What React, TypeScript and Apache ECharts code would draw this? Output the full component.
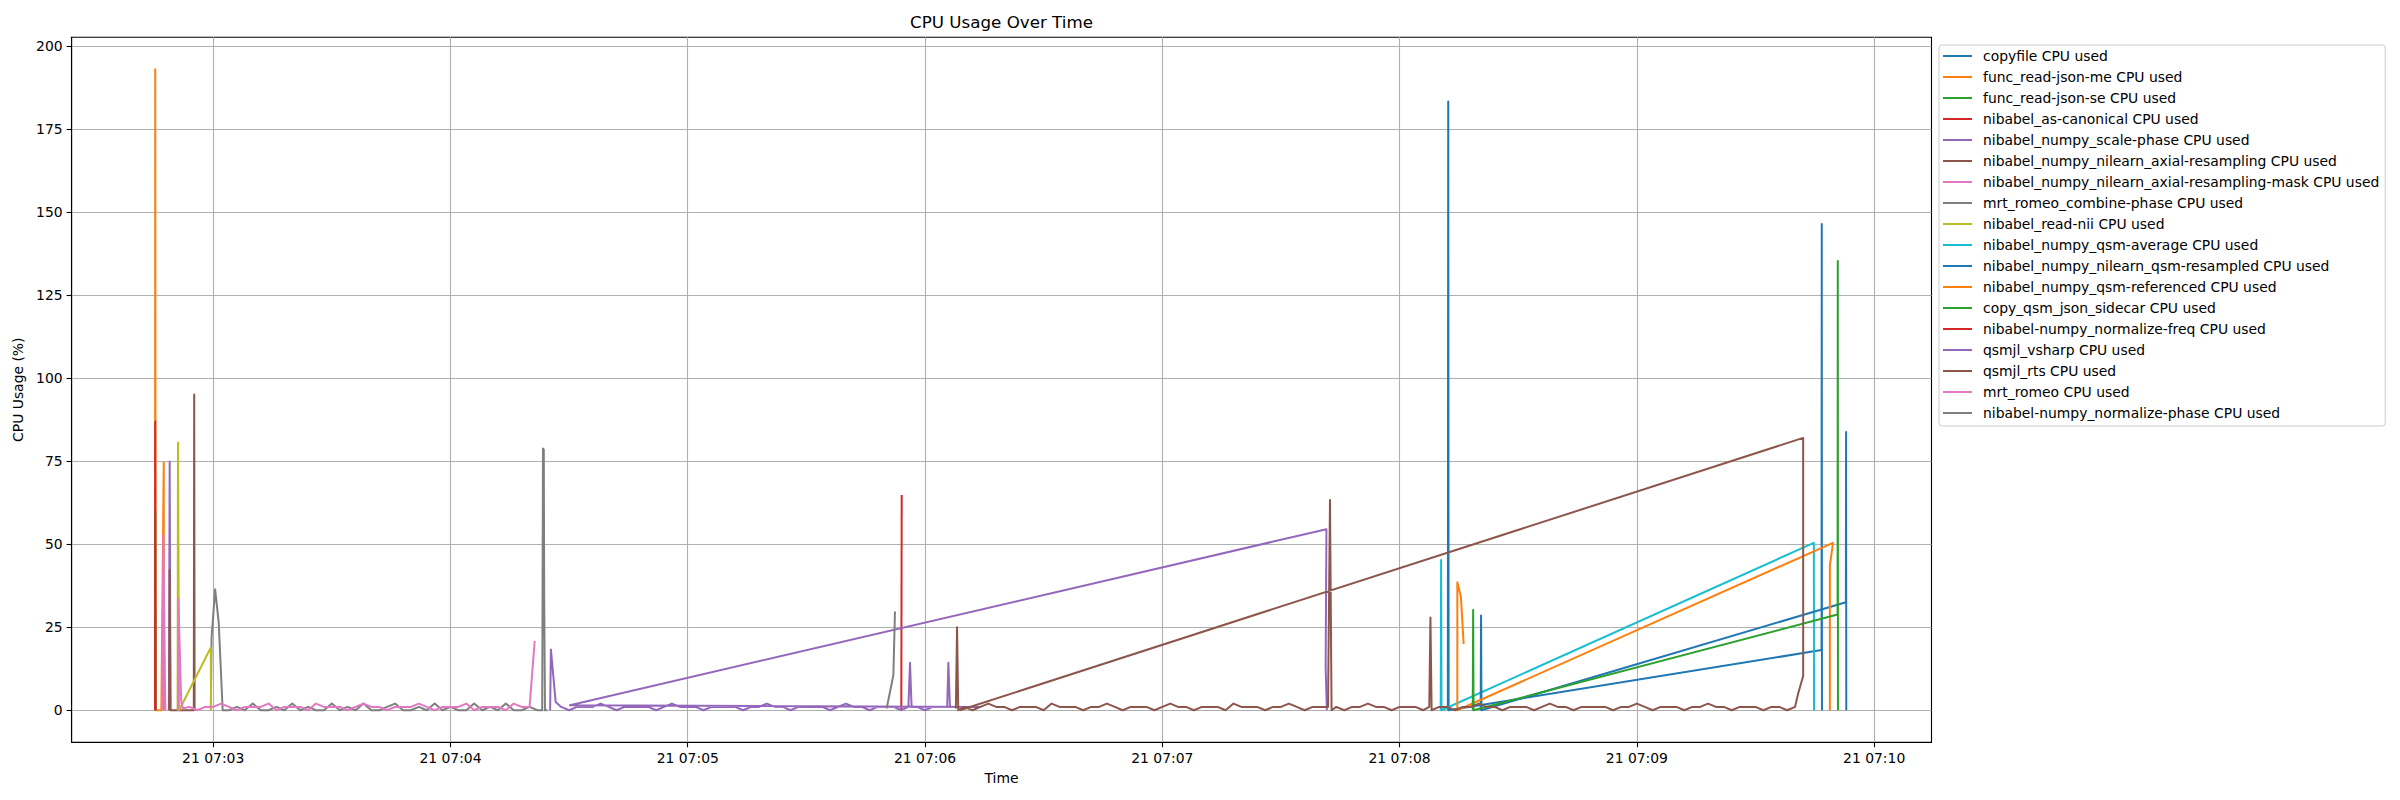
import React, { useEffect, useRef } from 'react';
import * as echarts from 'echarts';

// time is expressed in seconds after 07:00:00 (day 21)
const seriesNames = [
  'copyfile CPU used',
  'func_read-json-me CPU used',
  'func_read-json-se CPU used',
  'nibabel_as-canonical CPU used',
  'nibabel_numpy_scale-phase CPU used',
  'nibabel_numpy_nilearn_axial-resampling CPU used',
  'nibabel_numpy_nilearn_axial-resampling-mask CPU used',
  'mrt_romeo_combine-phase CPU used',
  'nibabel_read-nii CPU used',
  'nibabel_numpy_qsm-average CPU used',
  'nibabel_numpy_nilearn_qsm-resampled CPU used',
  'nibabel_numpy_qsm-referenced CPU used',
  'copy_qsm_json_sidecar CPU used',
  'nibabel-numpy_normalize-freq CPU used',
  'qsmjl_vsharp CPU used',
  'qsmjl_rts CPU used',
  'mrt_romeo CPU used',
  'nibabel-numpy_normalize-phase CPU used',
];

const seriesColors = [
  '#1f77b4', '#ff7f0e', '#2ca02c', '#d62728', '#9467bd', '#8c564b', '#e377c2', '#7f7f7f', '#bcbd22',
  '#17becf', '#1f77b4', '#ff7f0e', '#2ca02c', '#d62728', '#9467bd', '#8c564b', '#e377c2', '#7f7f7f',
];

const xTickValues = [180, 240, 300, 360, 420, 480, 540, 600];
const xTickLabels = ['21 07:03', '21 07:04', '21 07:05', '21 07:06', '21 07:07', '21 07:08', '21 07:09', '21 07:10'];
const yTickValues = [0, 25, 50, 75, 100, 125, 150, 175, 200];

// explicit samples [time, cpu]
const copyfile = [[492.2, 0], [492.3, 183.3], [492.4, 0], [586.7, 18.1], [586.75, 146.4], [586.8, 0]];
const funcReadJsonMe = [[165.3, 0], [165.35, 193.0], [165.45, 0], [166.9, 0], [167.5, 74.6], [167.55, 0]];
const funcReadJsonSe = [[165.3, 0], [165.35, 60], [165.45, 0]];
const asCanonical = [[165.3, 0], [165.35, 86.9], [165.45, 0]];
const scalePhase = [[168.8, 0], [169.0, 74.9], [169.2, 0]];
const axialResampling = [[168.9, 0], [169.0, 42.3], [169.2, 0], [175.1, 0], [175.2, 95.1], [175.3, 0]];
const axialResamplingMask = [[167.1, 0], [167.4, 52.8], [167.9, 0]];
const combinePhaseHead = [[179.4, 0], [179.6, 22.0], [180.5, 36.4], [181.4, 26.4], [182.4, 0]];
const combinePhaseNoise = [0, 1, 0, 2, 0, 0, 1, 0, 2, 0, 1, 0, 0, 2, 0, 1, 0, 2, 0, 0, 1, 2, 0, 0, 1, 0, 2, 0, 1, 0, 0, 2, 0, 1, 0, 2, 0, 0, 1, 0];
const combinePhaseTail = [[263.2, 0], [263.4, 78.8], [263.6, 78.5], [263.7, 34.6], [263.9, 0], [264.5, 0]];
const readNii = [[171.0, 0], [171.1, 80.6], [171.4, 0], [179.4, 18.9], [179.45, 0]];
const qsmAverage = [[490.4, 0], [490.5, 45.2], [490.6, 0], [584.75, 50.4], [584.8, 0]];
const qsmResampled = [[500.5, 0], [500.6, 28.5], [500.7, 0], [592.85, 32.5], [592.9, 83.8], [592.95, 0]];
const qsmReferenced = [[496.2, 19.9], [495.5, 34.2], [494.6, 38.5], [494.6, 0], [589.6, 50.4], [588.8, 43.6], [588.8, 0]];
const copyQsmJsonSidecar = [[498.5, 0], [498.6, 30.2], [498.7, 0], [590.75, 28.8], [590.8, 135.3], [590.85, 0]];
const normalizeFreq = [[354.0, 0], [354.1, 64.8]];
const vsharpHead = [[265.2, 0], [265.4, 18.3], [266.6, 2.5]];
const vsharpNoiseA = [1, 0, 1, 1, 1, 2, 1, 0, 1, 1, 1, 1, 0, 1, 2, 1, 1, 1, 0, 1, 1, 1, 1, 0, 1, 1, 2, 1, 1, 0, 1, 1, 1, 1, 0, 1, 2, 1, 1, 0, 1, 1, 1, 0];
const vsharpSpike = [[355.8, 1], [356.2, 14.3], [356.6, 1]];
const vsharpNoiseB = [1, 0, 1, 1];
const vsharpTail = [[365.6, 1], [365.9, 14.3], [366.3, 1], [370, 1], [374, 1], [270.2, 1.5], [461.5, 54.5], [461.3, 13], [461.6, 0]];
const rtsHead = [[367.8, 0.5], [368.1, 25.0], [368.4, 0]];
const rtsNoiseA = [1, 0, 1, 2, 1, 1, 0, 1, 1, 1, 0, 2, 1, 1, 1, 0, 1, 1, 2, 1, 0, 1, 1, 1, 0, 1, 2, 1, 1, 0, 1, 1, 1, 0, 2, 1, 1, 1, 0, 1, 1, 2, 1, 0, 1, 1];
const rtsSpikeA = [[461.9, 1], [462.4, 63.3], [462.8, 0]];
const rtsNoiseB = [1, 0, 1, 1, 2, 1, 1, 0, 1, 1, 1, 0];
const rtsSpikeB = [[487.5, 1], [487.8, 27.9], [488.1, 0]];
const rtsNoiseC = [1, 1, 0, 1, 1, 2, 1, 1, 0, 1, 1, 1, 0, 1, 2, 1, 1, 0, 1, 1, 1, 1, 0, 1, 1, 2, 1, 0, 1, 1, 1, 0, 1, 1, 2, 1, 1, 0, 1, 1, 1, 0, 1, 1, 0, 1];
const rtsTail = [[580.8, 5.1], [582.05, 10.3], [582.05, 82.0], [368.8, 0]];
const romeoHead = [[171.1, 0], [171.2, 33.5], [171.9, 3], [172.3, 0.5]];
const romeoNoise = [1, 0, 1, 1, 2, 1, 0, 1, 1, 1, 2, 0, 1, 1, 1, 0, 2, 1, 1, 1, 0, 1, 2, 1, 1, 0, 1, 1, 1, 2, 1, 0, 1, 1, 1, 2, 0, 1, 1, 1, 0, 2, 1, 1];
const romeoTail = [[261.3, 20.9]];
const normalizePhase = [[350.3, 0.5], [352.0, 10.6], [352.4, 29.7]];

// regularly sampled segments (one sample every `step` seconds)
const sampled = (start: number, step: number, values: number[]) => values.map((v, i) => [start + i * step, v]);

const seriesData = [
  copyfile,
  funcReadJsonMe,
  funcReadJsonSe,
  asCanonical,
  scalePhase,
  axialResampling,
  axialResamplingMask,
  [...combinePhaseHead, ...sampled(184, 2, combinePhaseNoise), ...combinePhaseTail],
  readNii,
  qsmAverage,
  qsmResampled,
  qsmReferenced,
  copyQsmJsonSidecar,
  normalizeFreq,
  [...vsharpHead, ...sampled(268, 2, vsharpNoiseA), ...vsharpSpike, ...sampled(358, 2, vsharpNoiseB), ...vsharpTail],
  [...rtsHead, ...sampled(370, 2, rtsNoiseA), ...rtsSpikeA, ...sampled(464, 2, rtsNoiseB), ...rtsSpikeB, ...sampled(490, 2, rtsNoiseC), ...rtsTail],
  [...romeoHead, ...sampled(174, 2, romeoNoise), ...romeoTail],
  normalizePhase,
];

const FONT = 'DejaVu Sans';

export default function App() {
  const ref = useRef<HTMLDivElement>(null);
  useEffect(() => {
    if (!ref.current) return;
    const chart = echarts.init(ref.current, null, { renderer: 'svg' });
    chart.setOption({
      animation: false,
      backgroundColor: '#ffffff',
      textStyle: { fontFamily: FONT },
      grid: {
        left: 71.6, top: 37.2, right: 468.5, bottom: 57.7,
        show: true, borderColor: '#000', borderWidth: 1.1, backgroundColor: 'transparent',
      },
      graphic: [
        {
          type: 'text', x: 1001.5, y: 22, z: 10,
          style: { text: 'CPU Usage Over Time', fontSize: 16.7, fontFamily: FONT, fill: '#000', textAlign: 'center', textVerticalAlign: 'middle' },
        },
      ],
      legend: {
        orient: 'vertical', left: 1939, top: 45,
        padding: [4, 6, 6, 4],
        itemWidth: 29, itemHeight: 14, itemGap: 7,
        icon: 'path://M0,0H29V2H0Z',
        backgroundColor: 'rgba(255,255,255,0.8)', borderColor: '#cccccc', borderWidth: 1, borderRadius: 3,
        textStyle: { fontFamily: FONT, fontSize: 13.9, color: '#000', padding: [0, 0, 0, 6] },
        data: seriesNames,
      },
      xAxis: {
        type: 'value', min: 144.2, max: 614.5,
        name: 'Time', nameLocation: 'middle', nameGap: 29,
        nameTextStyle: { fontFamily: FONT, fontSize: 13.9, color: '#000' },
        axisLine: { onZero: false, lineStyle: { color: '#000', width: 1.1 } },
        axisTick: { customValues: xTickValues, length: 5, lineStyle: { color: '#000', width: 1.1 } },
        axisLabel: {
          customValues: xTickValues, margin: 9, color: '#000', fontSize: 13.9, fontFamily: FONT,
          formatter: (v: number) => xTickLabels[xTickValues.indexOf(Math.round(v))] ?? '',
        },
        splitLine: { show: true, lineStyle: { color: '#b0b0b0', width: 1.1 } },
      },
      yAxis: {
        type: 'value', min: -9.66, max: 202.65,
        name: 'CPU Usage (%)', nameLocation: 'middle', nameGap: 43, nameRotate: 90,
        nameTextStyle: { fontFamily: FONT, fontSize: 13.9, color: '#000' },
        axisLine: { show: true, onZero: false, lineStyle: { color: '#000', width: 1.1 } },
        axisTick: { show: true, customValues: yTickValues, length: 5, lineStyle: { color: '#000', width: 1.1 } },
        axisLabel: { customValues: yTickValues, margin: 9, color: '#000', fontSize: 13.9, fontFamily: FONT },
        splitLine: { show: true, lineStyle: { color: '#b0b0b0', width: 1.1 } },
      },
      series: seriesNames.map((name, i) => ({
        name,
        type: 'line',
        data: seriesData[i],
        symbol: 'none',
        showSymbol: false,
        color: seriesColors[i],
        lineStyle: { color: seriesColors[i], width: 2, join: 'round' },
        emphasis: { disabled: true },
        clip: true,
      })),
    });
    return () => chart.dispose();
  }, []);
  return <div ref={ref} style={{ position: 'fixed', left: 0, top: 0, width: 2400, height: 800 }} />;
}
